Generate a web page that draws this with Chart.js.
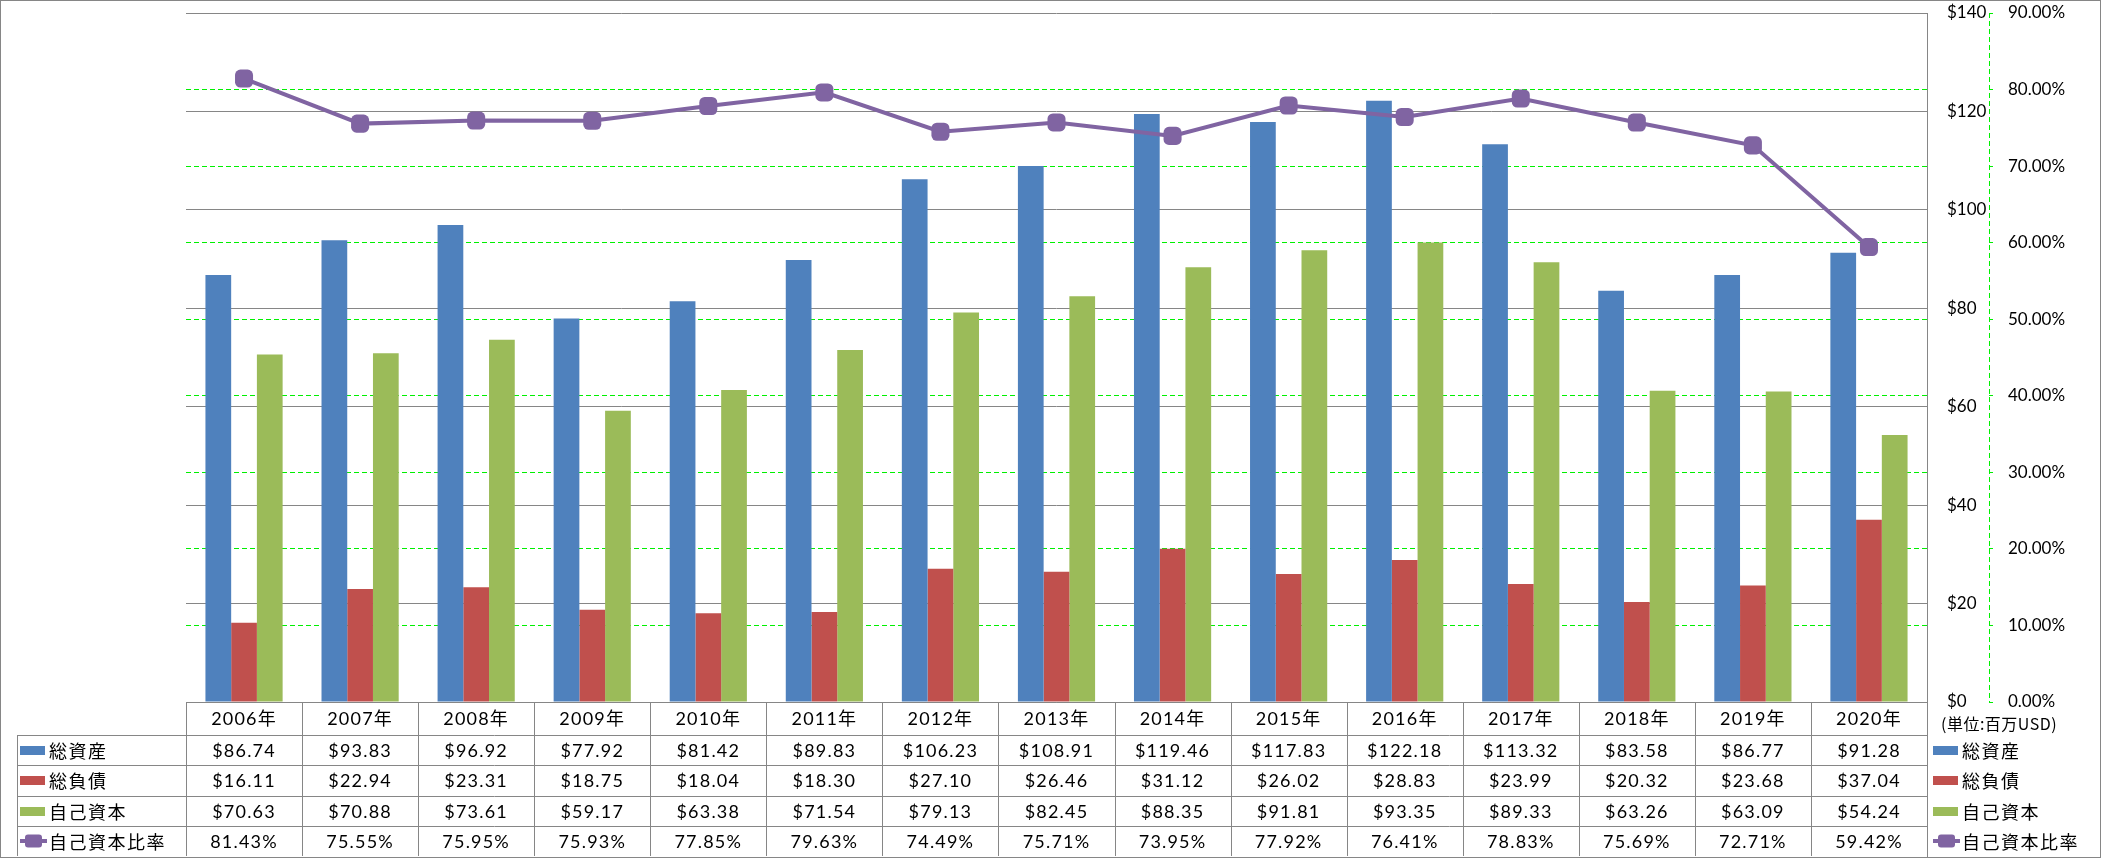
<!DOCTYPE html>
<html>
<head>
<meta charset="utf-8">
<script src="https://cdn.jsdelivr.net/npm/chart.js@4.4.1/dist/chart.umd.min.js"></script>
<style>
html,body{margin:0;padding:0;background:#fff;}
canvas{display:block;}
</style>
</head>
<body>
<canvas id="c" width="2101" height="858"></canvas>
<script>
const categories = ['2006年','2007年','2008年','2009年','2010年','2011年','2012年','2013年','2014年','2015年','2016年','2017年','2018年','2019年','2020年'];
const totalAssets = [86.74,93.83,96.92,77.92,81.42,89.83,106.23,108.91,119.46,117.83,122.18,113.32,83.58,86.77,91.28];
const totalLiabilities = [16.11,22.94,23.31,18.75,18.04,18.30,27.10,26.46,31.12,26.02,28.83,23.99,20.32,23.68,37.04];
const equity = [70.63,70.88,73.61,59.17,63.38,71.54,79.13,82.45,88.35,91.81,93.35,89.33,63.26,63.09,54.24];
const equityRatio = [81.43,75.55,75.95,75.93,77.85,79.63,74.49,75.71,73.95,77.92,76.41,78.83,75.69,72.71,59.42];
const seriesNames = ['総資産','総負債','自己資本','自己資本比率'];
const unitLabel = '(単位:百万USD)';
const usdTickMax = 140, usdTickStep = 20;
const pctTickMax = 90, pctTickStep = 10;

const BLUE = '#4F81BD', RED = '#C0504D', GREEN = '#9BBB59', PURPLE = '#8064A2';
const GRID = '#868686', DASH_GREEN = '#00F000';
const FONT = "Lato, 'Noto Sans CJK JP', sans-serif";
const CJK = "'Noto Sans CJK JP', Lato, sans-serif";

function roundRect(ctx, x, y, w, h, r) {
  ctx.beginPath();
  ctx.moveTo(x + r, y);
  ctx.lineTo(x + w - r, y);
  ctx.quadraticCurveTo(x + w, y, x + w, y + r);
  ctx.lineTo(x + w, y + h - r);
  ctx.quadraticCurveTo(x + w, y + h, x + w - r, y + h);
  ctx.lineTo(x + r, y + h);
  ctx.quadraticCurveTo(x, y + h, x, y + h - r);
  ctx.lineTo(x, y + r);
  ctx.quadraticCurveTo(x, y, x + r, y);
  ctx.closePath();
}

function drawKey(ctx, i, x, yc) {
  const colors = [BLUE, RED, GREEN];
  if (i < 3) {
    ctx.fillStyle = colors[i];
    ctx.fillRect(x, Math.round(yc - 4.5), 25, 9);
  } else {
    ctx.strokeStyle = PURPLE;
    ctx.lineWidth = 4;
    ctx.beginPath();
    ctx.moveTo(x, yc); ctx.lineTo(x + 27, yc);
    ctx.stroke();
    ctx.fillStyle = PURPLE;
    roundRect(ctx, x + 5, yc - 6.5, 17, 13, 3);
    ctx.fill();
  }
}

const tablePlugin = {
  id: 'dataTable',
  afterDraw(chart) {
    const ctx = chart.ctx;
    const area = chart.chartArea;
    const xs = chart.scales.x;
    const n = categories.length;
    const colW = (area.right - area.left) / n;
    const rows = [area.bottom, area.bottom + 33, area.bottom + 63, area.bottom + 94, area.bottom + 124, 856];
    const labelLeft = 17;
    ctx.save();
    // dashed secondary axis line
    const ax = Math.round(chart.scales.y1.left) + 0.5;
    ctx.strokeStyle = DASH_GREEN;
    ctx.lineWidth = 1;
    ctx.setLineDash([5, 3]);
    ctx.beginPath();
    ctx.moveTo(ax, area.top);
    ctx.lineTo(ax, area.bottom);
    ctx.stroke();
    ctx.setLineDash([]);

    ctx.strokeStyle = GRID;
    ctx.beginPath();
    ctx.moveTo(area.left, Math.round(rows[0]) + 0.5);
    ctx.lineTo(area.right, Math.round(rows[0]) + 0.5);
    for (let r = 1; r < 5; r++) {
      ctx.moveTo(labelLeft, Math.round(rows[r]) + 0.5);
      ctx.lineTo(area.right, Math.round(rows[r]) + 0.5);
    }
    for (let k = 0; k < n; k++) {
      const x = Math.round(area.left + k * colW) + 0.5;
      ctx.moveTo(x, rows[0]);
      ctx.lineTo(x, rows[5]);
    }
    ctx.moveTo(labelLeft + 0.5, rows[1]);
    ctx.lineTo(labelLeft + 0.5, rows[5]);
    ctx.moveTo(Math.round(area.right) + 0.5, area.top);
    ctx.lineTo(Math.round(area.right) + 0.5, 857);
    ctx.stroke();
    ctx.strokeRect(0.5, 0.5, 2100, 857);

    ctx.fillStyle = '#000';
    ctx.textAlign = 'center';
    ctx.textBaseline = 'middle';
    ctx.font = '18px ' + FONT;
    ctx.letterSpacing = '1.2px';
    const series = [totalAssets, totalLiabilities, equity, equityRatio];
    for (let i = 0; i < n; i++) {
      const cx = xs.getPixelForValue(i);
      ctx.fillText(categories[i], cx, (rows[0] + rows[1]) / 2 + 1);
      for (let s = 0; s < 4; s++) {
        const v = series[s][i];
        const txt = s < 3 ? '$' + v.toFixed(2) : v.toFixed(2) + '%';
        ctx.fillText(txt, cx, (rows[s + 1] + rows[s + 2]) / 2 + 1);
      }
    }
    ctx.textAlign = 'left';
    ctx.letterSpacing = '1.5px';
    for (let s = 0; s < 4; s++) {
      const yc = (rows[s + 1] + rows[s + 2]) / 2;
      drawKey(ctx, s, 20, yc);
      ctx.fillStyle = '#000';
      ctx.font = '18px ' + CJK;
      ctx.fillText(seriesNames[s], 49, yc + 1);
    }
    ctx.letterSpacing = '0.5px';
    ctx.font = '16px ' + CJK;
    ctx.fillText(unitLabel, 1941, 724);
    ctx.letterSpacing = '1.5px';
    for (let s = 0; s < 4; s++) {
      const yc = (rows[s + 1] + rows[s + 2]) / 2;
      drawKey(ctx, s, 1933, yc);
      ctx.fillStyle = '#000';
      ctx.font = '18px ' + CJK;
      ctx.fillText(seriesNames[s], 1962, yc + 1);
    }
    ctx.restore();
  }
};

new Chart(document.getElementById('c'), {
  type: 'bar',
  data: {
    labels: categories,
    datasets: [
      { type: 'line', label: seriesNames[3], data: equityRatio, yAxisID: 'y1', order: 0,
        borderColor: PURPLE, backgroundColor: PURPLE, borderWidth: 4,
        pointStyle: 'rectRounded', pointRadius: 10.5, pointHoverRadius: 10.5,
        pointBackgroundColor: PURPLE, pointBorderColor: PURPLE, pointBorderWidth: 0, tension: 0 },
      { label: seriesNames[0], data: totalAssets, backgroundColor: BLUE, yAxisID: 'y', order: 1 },
      { label: seriesNames[1], data: totalLiabilities, backgroundColor: RED, yAxisID: 'y', order: 1 },
      { label: seriesNames[2], data: equity, backgroundColor: GREEN, yAxisID: 'y', order: 1 }
    ]
  },
  options: {
    responsive: false,
    animation: false,
    devicePixelRatio: 1,
    datasets: { bar: { categoryPercentage: 0.665, barPercentage: 1.0 } },
    layout: { autoPadding: false, padding: { left: 186, right: 0, top: 13, bottom: 156 } },
    plugins: { legend: { display: false }, tooltip: { enabled: false } },
    scales: {
      x: { display: false, offset: true },
      y: {
        position: 'right', min: 0, max: usdTickMax,
        ticks: { stepSize: usdTickStep, padding: 20, color: '#000', font: { family: FONT, size: 17 },
                 callback: v => '$' + v },
        grid: { color: GRID, lineWidth: 1, drawTicks: false },
        border: { display: false },
        afterFit: s => { s.width = 62; s.paddingTop = 0; s.paddingBottom = 0; }
      },
      y1: {
        position: 'right', min: 0, max: pctTickMax,
        ticks: { stepSize: pctTickStep, padding: 15, color: '#000', font: { family: FONT, size: 17 },
                 callback: v => v.toFixed(2) + '%' },
        grid: {
          color: c => (c.tick && (c.tick.value === 0 || c.tick.value === pctTickMax)) ? 'rgba(0,0,0,0)' : DASH_GREEN,
          tickColor: DASH_GREEN, tickLength: 4, drawTicks: true, lineWidth: 1, tickBorderDash: []
        },
        border: { display: false, color: DASH_GREEN, dash: [5, 3] },
        afterFit: s => { s.width = 112; s.paddingTop = 0; s.paddingBottom = 0; }
      }
    }
  },
  plugins: [tablePlugin]
});
</script>
</body>
</html>
